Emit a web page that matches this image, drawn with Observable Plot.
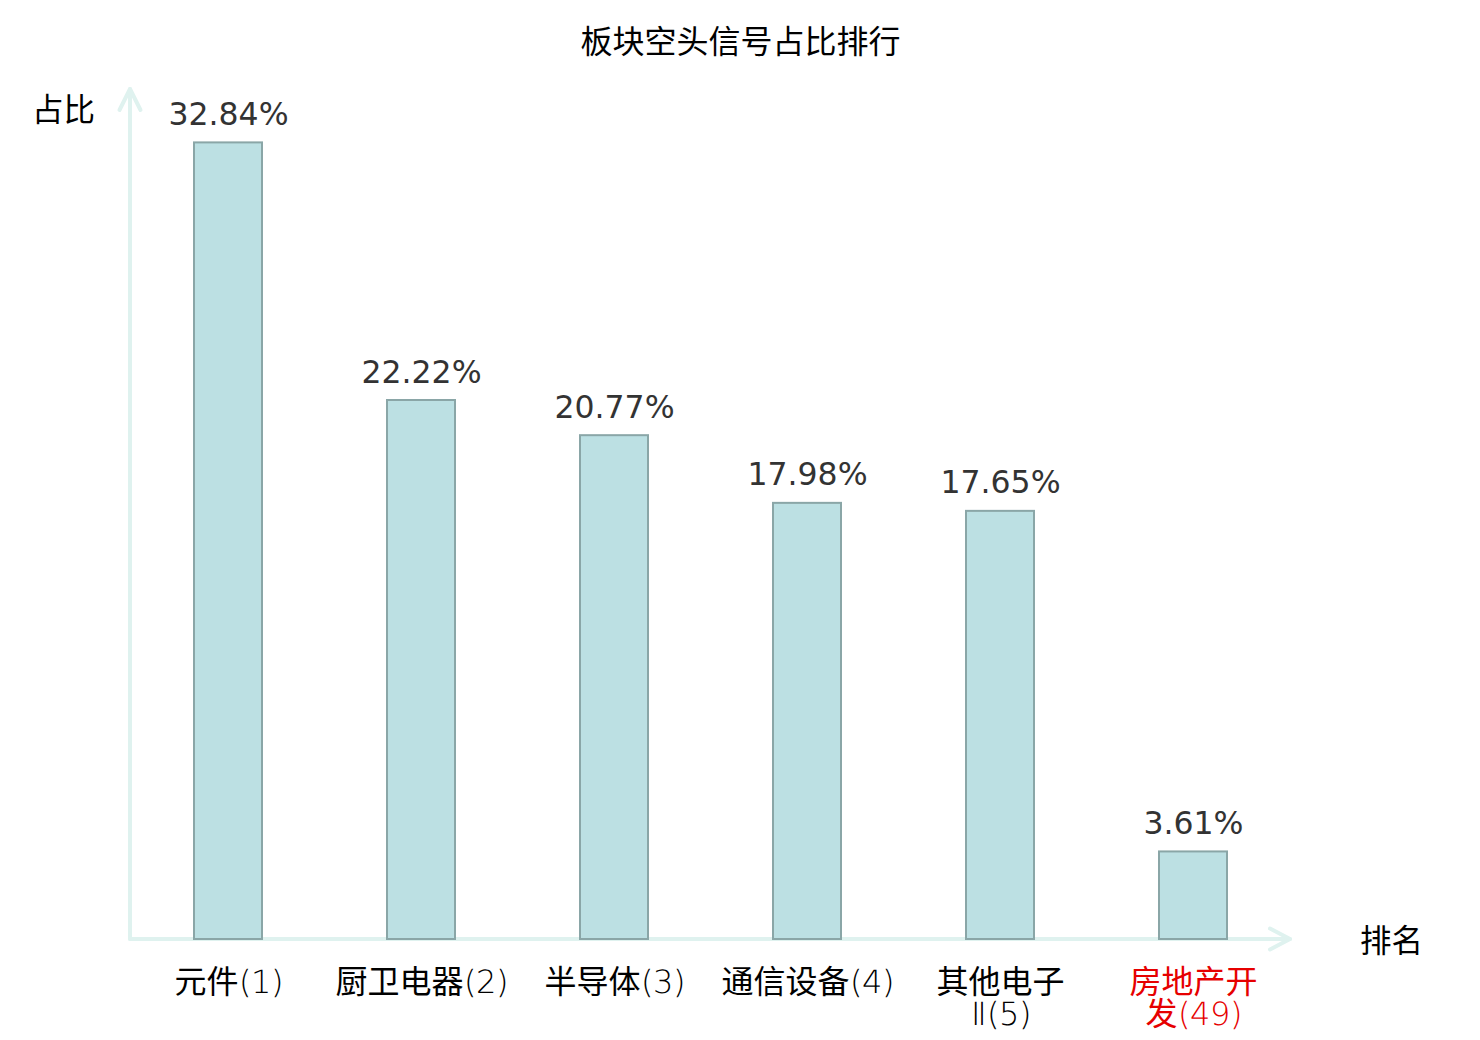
<!DOCTYPE html>
<html><head><meta charset="utf-8">
<script src="https://cdn.jsdelivr.net/npm/d3@7"></script>
<script src="https://cdn.jsdelivr.net/npm/@observablehq/plot@0.6"></script>
<style>
@font-face {
  font-family: "TickLatin";
  src: local("DejaVu Sans ExtraLight"), local("DejaVuSans-ExtraLight"), local("Lato Light"), local("Lato-Light"),
       local("Roboto Light"), local("Roboto-Light"), local("Open Sans Light"), local("OpenSans-Light"),
       local("Noto Sans Light"), local("NotoSans-Light");
  unicode-range: U+0020-007F, U+2160-217F;
}
body{margin:0;background:#fff}
#chart svg{display:block}
</style>
</head><body><div id="chart"></div>
<script>
const titleText = "板块空头信号占比排行";
const yLabel = "占比";
const xLabel = "排名";
const categories = ["元件(1)", "厨卫电器(2)", "半导体(3)", "通信设备(4)", "其他电子\nⅡ(5)", "房地产开\n发(49)"];
const values = [32.84, 22.22, 20.77, 17.98, 17.65, 3.61];
const highlighted = [false, false, false, false, false, true];
const yDomain = [0, 35];

const data = categories.map((c, i) => ({name: c, value: values[i], hl: highlighted[i]}));

const axisColor = "#dff2ef";
const cjk = "'Noto Sans CJK SC', 'DejaVu Sans', sans-serif";
const tickFont = "TickLatin, 'Noto Sans CJK SC', sans-serif";

function axisArrows(index, scales, vals, dims) {
  const x0 = dims.marginLeft, x1 = dims.width - dims.marginRight;
  const yb = scales.y(0), yt = dims.marginTop - 1;
  const g = d3.create("svg:g")
    .attr("stroke", axisColor).attr("stroke-width", 4).attr("fill", "none")
    .attr("stroke-linecap", "round").attr("stroke-linejoin", "round");
  g.append("path").attr("d", `M${x0},${yb}H${x1}`);
  g.append("path").attr("d", `M${x1-20},${yb-10.5}L${x1},${yb}L${x1-20},${yb+10.5}`);
  g.append("path").attr("d", `M${x0},${yb}V${yt}`);
  g.append("path").attr("d", `M${x0-10.5},${yt+21}L${x0},${yt}L${x0+10.5},${yt+21}`);
  return g.node();
}

const chart = Plot.plot({
  width: 1480,
  height: 1040,
  marginLeft: 130,
  marginRight: 190,
  marginTop: 90,
  marginBottom: 101,
  style: {background: "#fff", overflow: "visible"},
  x: {domain: categories, paddingInner: 0.648, paddingOuter: 0.326, axis: null},
  y: {domain: yDomain, axis: null},
  marks: [
    axisArrows,
    Plot.barY(data, {x: "name", y: "value", fill: "#bce0e3", stroke: "#8aa6a7", strokeWidth: 2}),
    Plot.text(data, {x: "name", y: "value", text: d => d.value.toFixed(2) + "%", dy: -18, lineAnchor: "bottom",
      fontSize: 31.5, fill: "#333333", fontFamily: "'DejaVu Sans', sans-serif"}),
    Plot.text(data, {x: "name", frameAnchor: "bottom", text: "name", lineAnchor: "top", dy: 31,
      fontSize: 32, lineHeight: 1.0, fontFamily: tickFont, fill: d => d.hl ? "#e60000" : "#000000"}),
    Plot.text([titleText], {frameAnchor: "top", text: d => d, dx: 30, dy: -48, lineAnchor: "middle",
      fontSize: 32, fill: "#000", fontFamily: cjk}),
    Plot.text([yLabel], {frameAnchor: "top-left", text: d => d, dx: -67, dy: 20, lineAnchor: "middle", textAnchor: "middle",
      fontSize: 31.5, fill: "#000", fontFamily: cjk}),
    Plot.text([xLabel], {frameAnchor: "bottom-right", text: d => d, dx: 101, dy: 2, lineAnchor: "middle", textAnchor: "middle",
      fontSize: 31.5, fill: "#000", fontFamily: cjk})
  ]
});
document.getElementById("chart").appendChild(chart);
</script>
</body></html>
